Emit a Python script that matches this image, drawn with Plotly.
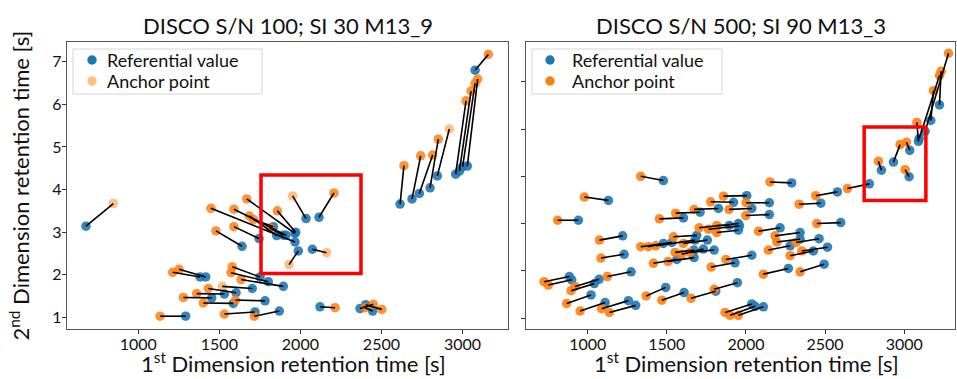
import plotly.graph_objects as go

# ---------------- data: left panel (DISCO S/N 100; SI 30 M13_9) ----------------
left_ref_x = [677, 1292, 3078, 3030, 3001, 2981, 2958, 2615, 2689, 2734, 2800, 2845,
              2035, 2115, 2074, 1987, 1967, 1640, 1911, 1745, 1967, 1854, 1833, 1971, 1895,
              1381, 1416, 1751, 1802, 1895, 1703, 1603, 1531, 1453, 1586, 1782, 1720, 1870,
              2121, 2368, 2403, 2446]
left_ref_y = [3.14, 1.03, 6.80, 4.55, 4.54, 4.43, 4.36, 3.66, 3.78, 3.91, 4.04, 4.32,
              3.32, 3.35, 2.60, 2.56, 2.77, 2.67, 2.93, 2.85, 2.97, 2.92, 3.13, 3.00, 2.93,
              1.95, 1.95, 1.95, 1.84, 1.73, 1.68, 1.58, 1.55, 1.46, 1.33, 1.39, 1.13, 1.15,
              1.25, 1.21, 1.30, 1.15]
left_anc_x = [846, 1134, 3160, 3094, 3078, 3053, 3022, 2639, 2742, 2816, 2851, 2919,
              1952, 2207, 2162, 1930, 1448, 1479, 1590, 1590, 1669, 1685, 1710, 1858, 1813,
              1212, 1251, 1580, 1572, 1634, 1518, 1432, 1360, 1278, 1401, 1600, 1531, 1716,
              2214, 2450, 2502, 2399]
left_anc_y = [3.67, 1.03, 7.17, 6.59, 6.49, 6.31, 6.08, 4.56, 4.79, 4.81, 5.18, 5.42,
              3.85, 3.92, 2.52, 2.24, 3.56, 3.03, 3.54, 3.13, 3.78, 3.38, 3.30, 3.50, 3.10,
              2.06, 2.13, 2.19, 2.05, 1.89, 1.73, 1.68, 1.56, 1.47, 1.34, 1.41, 1.08, 1.03,
              1.23, 1.31, 1.19, 1.23]
# anchor points drawn faint in the left panel (indices into the left lists)
left_faint = [0, 11, 12, 14, 15, 30]

# ---------------- data: right panel (DISCO S/N 500; SI 90 M13_3) ----------------
right_ref_x = [3132, 3223, 3095, 3168, 3090, 3035, 2932, 3031, 2856, 2780, 2578, 2473, 2289, 2599,
               1478, 1131, 941, 1221, 1230, 884, 899, 1042, 1072, 1274, 1021, 1110, 1257, 1303,
               1493, 1609, 1809, 1946, 1563, 2037, 2058, 2110, 2005, 2037, 2148, 2148, 2216,
               2342, 2342, 2462, 2279, 2426, 2515, 2268, 2494, 2037, 1921, 1826, 1710, 1605,
               1952, 1959, 1952, 1895, 1689, 1756, 1531, 1478, 1678, 1672, 1731, 1799, 1672, 1931]
right_ref_y = [4.95, 5.51, 4.80, 5.18, 4.74, 4.55, 4.30, 3.99, 4.13, 3.84, 3.67, 3.43, 3.86, 3.02,
               3.91, 3.49, 3.07, 2.74, 2.35, 1.88, 1.81, 1.73, 1.82, 1.98, 1.49, 1.33, 1.37, 1.27,
               1.65, 1.54, 1.57, 1.75, 2.24, 1.30, 1.25, 1.24, 3.59, 3.32, 3.44, 3.19, 2.91,
               2.81, 2.67, 2.68, 2.53, 2.42, 2.50, 2.05, 2.14, 2.33, 3.45, 3.32, 3.24, 3.12,
               3.00, 2.95, 2.86, 2.96, 2.75, 2.65, 2.60, 2.58, 2.65, 2.44, 2.46, 2.44, 2.28, 2.17]
right_anc_x = [3280, 3233, 3223, 3185, 3080, 3014, 2974, 3006, 2837, 2641, 2441, 2336, 2152, 2448,
               1335, 979, 810, 1074, 1084, 724, 751, 895, 920, 1124, 867, 952, 1088, 1137,
               1369, 1468, 1653, 1799, 1415, 1868, 1900, 1952, 1858, 1893, 2001, 1999, 2079,
               2184, 2195, 2317, 2142, 2279, 2353, 2110, 2342, 1873, 1777, 1672, 1556, 1453,
               1704, 1763, 1815, 1815, 1542, 1605, 1335, 1383, 1430, 1552, 1594, 1647, 1508, 1780]
right_anc_y = [6.60, 6.22, 6.13, 5.81, 5.14, 4.72, 4.67, 4.14, 4.32, 3.74, 3.59, 3.41, 3.88, 3.00,
               4.00, 3.56, 3.07, 2.65, 2.27, 1.77, 1.70, 1.58, 1.67, 1.88, 1.31, 1.15, 1.20, 1.12,
               1.47, 1.38, 1.42, 1.61, 2.16, 1.12, 1.06, 1.06, 3.58, 3.30, 3.44, 3.17, 2.84,
               2.74, 2.61, 2.60, 2.44, 2.32, 2.42, 1.93, 1.98, 2.24, 3.46, 3.30, 3.22, 3.10,
               2.91, 2.88, 2.81, 2.96, 2.72, 2.58, 2.51, 2.51, 2.53, 2.39, 2.35, 2.39, 2.20, 2.08]

# highlighted regions (data coordinates)
left_box = (1757, 2374, 2.03, 4.34)
right_box = (2747, 3137, 3.49, 5.04)

titles = ["DISCO S/N 100; SI 30 M13_9", "DISCO S/N 500; SI 90 M13_3"]
legend_labels = ["Referential value", "Anchor point"]
x_ticks = [1000, 1500, 2000, 2500, 3000]
left_y_ticks = [1, 2, 3, 4, 5, 6, 7]
right_y_ticks = [1, 2, 3, 4, 5, 6]

BLUE = "#1f77b4"
ORANGE = "#ff7f0e"
FONT = "Lato"
MS = 9.5
W, H = 957, 379


def segments(x0, y0, x1, y1):
    xs, ys = [], []
    for a, b, c, d in zip(x0, y0, x1, y1):
        xs += [a, c, None]
        ys += [b, d, None]
    return xs, ys


fig = go.Figure()

# ---- left panel ----
fig.add_trace(go.Scatter(x=left_ref_x, y=left_ref_y, mode="markers", name=legend_labels[0],
                         marker=dict(color=BLUE, size=MS, opacity=0.9), showlegend=False,
                         xaxis="x", yaxis="y"))
faint_x = [left_anc_x[i] for i in left_faint]
faint_y = [left_anc_y[i] for i in left_faint]
strong_x = [v for i, v in enumerate(left_anc_x) if i not in left_faint]
strong_y = [v for i, v in enumerate(left_anc_y) if i not in left_faint]
fig.add_trace(go.Scatter(x=faint_x, y=faint_y, mode="markers", name=legend_labels[1],
                         marker=dict(color=ORANGE, size=MS, opacity=0.5), showlegend=False,
                         xaxis="x", yaxis="y"))
fig.add_trace(go.Scatter(x=strong_x, y=strong_y, mode="markers", name=legend_labels[1],
                         marker=dict(color=ORANGE, size=MS, opacity=0.85), showlegend=False,
                         xaxis="x", yaxis="y"))
sx, sy = segments(left_ref_x, left_ref_y, left_anc_x, left_anc_y)
fig.add_trace(go.Scatter(x=sx, y=sy, mode="lines", line=dict(color="black", width=1.6),
                         showlegend=False, hoverinfo="skip", xaxis="x", yaxis="y"))

# ---- right panel ----
fig.add_trace(go.Scatter(x=right_ref_x, y=right_ref_y, mode="markers", name=legend_labels[0],
                         marker=dict(color=BLUE, size=MS, opacity=0.9), showlegend=False,
                         xaxis="x2", yaxis="y2"))
fig.add_trace(go.Scatter(x=right_anc_x, y=right_anc_y, mode="markers", name=legend_labels[1],
                         marker=dict(color=ORANGE, size=MS, opacity=0.9), showlegend=False,
                         xaxis="x2", yaxis="y2"))
sx, sy = segments(right_ref_x, right_ref_y, right_anc_x, right_anc_y)
fig.add_trace(go.Scatter(x=sx, y=sy, mode="lines", line=dict(color="black", width=1.6),
                         showlegend=False, hoverinfo="skip", xaxis="x2", yaxis="y2"))

for (x0, x1, y0, y1), xr, yr in [(left_box, "x", "y"), (right_box, "x2", "y2")]:
    fig.add_shape(type="rect", xref=xr, yref=yr, x0=x0, x1=x1, y0=y0, y1=y1,
                  line=dict(color="#ff0000", width=3.5))

# ---- legends (boxed, matplotlib style) ----
ann = []
legend_specs = [
    (73, 262, 92, 105, [BLUE, "rgba(255,127,14,0.5)"]),
    (532, 722, 550, 570, [BLUE, ORANGE]),
]
for bx0, bx1, mx, tx, cols in legend_specs:
    fig.add_shape(type="rect", xref="paper", yref="paper", x0=bx0 / W, x1=bx1 / W,
                  y0=(H - 94) / H, y1=(H - 49) / H, line=dict(color="#d6d6d6", width=1),
                  fillcolor="rgba(255,255,255,0.85)", layer="above")
    for k, (lab, col) in enumerate(zip(legend_labels, cols)):
        yy = (H - (60 + 21 * k)) / H
        fig.add_shape(type="circle", xref="paper", yref="paper", xsizemode="pixel",
                      ysizemode="pixel", xanchor=mx / W, yanchor=yy, x0=-4.7, x1=4.7,
                      y0=-4.7, y1=4.7, fillcolor=col, line=dict(width=0), layer="above")
        ann.append(dict(text=lab, x=tx / W, y=yy, xref="paper", yref="paper", showarrow=False,
                        font=dict(family=FONT, size=18, color="#111111"),
                        xanchor="left", yanchor="middle"))

axis_common = dict(showline=True, mirror=True, linecolor="#555555", linewidth=1.4,
                   ticks="outside", ticklen=4, tickcolor="#333333", showgrid=False,
                   zeroline=False, ticklabelstandoff=-3,
                   tickfont=dict(family=FONT, size=16, color="#111111"))

dom_l = [67 / W, 508 / W]
dom_r = [526 / W, 955 / W]
dom_y = [(H - 329) / H, (H - 42) / H]

fig.update_layout(
    width=W, height=H,
    margin=dict(l=0, r=0, t=0, b=0),
    paper_bgcolor="white", plot_bgcolor="white",
    font=dict(family=FONT, color="#111111"),
    showlegend=False,
    xaxis=dict(domain=dom_l, range=[560, 3281], tickvals=x_ticks, anchor="y", **axis_common),
    yaxis=dict(domain=dom_y, range=[0.73, 7.46], tickvals=left_y_ticks, anchor="x", **axis_common),
    xaxis2=dict(domain=dom_r, range=[610, 3321], tickvals=x_ticks, anchor="y2", **axis_common),
    yaxis2=dict(domain=dom_y, range=[0.77, 6.84], tickvals=right_y_ticks, anchor="x2",
                showticklabels=False, **axis_common),
)

for t, d in zip(titles, [dom_l, dom_r]):
    ann.append(dict(text=t, x=(d[0] + d[1]) / 2, y=(H - 25) / H, xref="paper", yref="paper",
                    showarrow=False, font=dict(family=FONT, size=22, color="#111111"),
                    xanchor="center", yanchor="middle"))
    ann.append(dict(text="1<sup>st</sup> Dimension retention time [s]", x=(d[0] + d[1]) / 2 + 0.006,
                    y=0, xref="paper", yref="paper", showarrow=False,
                    font=dict(family=FONT, size=22, color="#111111"),
                    xanchor="center", yanchor="bottom"))
ann.append(dict(text="2<sup>nd</sup> Dimension retention time [s]", x=2 / W, y=(H - 186) / H,
                xref="paper", yref="paper", showarrow=False, textangle=-90,
                font=dict(family=FONT, size=22, color="#111111"),
                xanchor="left", yanchor="middle"))
fig.update_layout(annotations=ann)

fig.write_html("out.html", config={"displayModeBar": False},
               post_script="document.body.style.margin='0';document.body.style.overflow='hidden';")
